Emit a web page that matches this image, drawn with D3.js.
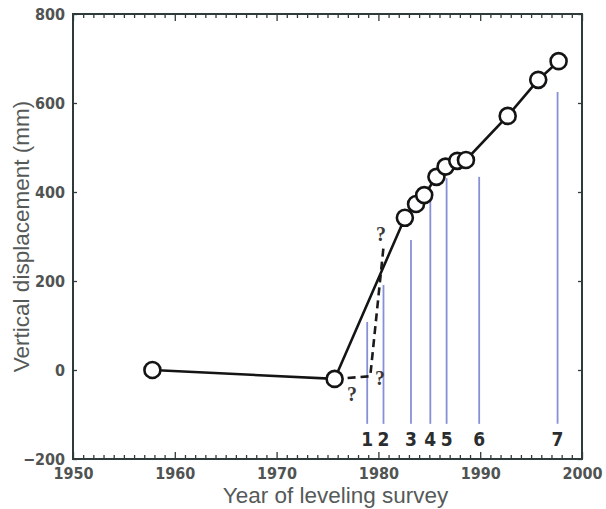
<!DOCTYPE html>
<html>
<head>
<meta charset="utf-8">
<script src="https://cdn.jsdelivr.net/npm/d3@7/dist/d3.min.js"></script>
<style>
  html, body { margin: 0; padding: 0; background: #fff; }
  svg { display: block; }
  .tick-label { font-family: "Liberation Sans Narrow", "DejaVu Sans Condensed", "DejaVu Sans", sans-serif; font-stretch: condensed; font-weight: bold; fill: #4f5352; }
</style>
</head>
<body>
<svg id="chart" width="606" height="509"></svg>
<script>
// Leveling survey results: year of survey vs. vertical displacement (mm)
const surveyYears = [1957.8, 1975.7, 1982.6, 1983.7, 1984.5, 1985.7, 1986.6, 1987.75, 1988.6, 1992.7, 1995.7, 1997.7];
const displacementMm = [0, -20, 342, 373, 393, 434, 457, 470, 472, 571, 652, 694];

// Uncertain path between the 1976 survey and the early-1980s rise
const dashedYears = [1975.7, 1979.2, 1980.5];
const dashedMm = [-20, -14, 276];
const queryYears = [1977.4, 1980.15, 1980.25];
const queryMm = [-54, -18, 306];

// Numbered reference markers
const markerLabels = ["1", "2", "3", "4", "5", "6", "7"];
const markerYears = [1978.9, 1980.5, 1983.2, 1985.1, 1986.7, 1989.9, 1997.6];
const markerTopMm = [108, 191, 292, 382, 431, 434, 625];
const markerBaseMm = -121;
const markerLabelMm = -170;

// Axis ticks
const xTickYears = d3.range(1950, 2001, 1);
const xLabelYears = [1950, 1960, 1970, 1980, 1990, 2000];
const yTickValues = [-200, 0, 200, 400, 600, 800];

const svg = d3.select("#chart");
const plotLeft = 73, plotRight = 582, plotTop = 14, plotBottom = 459;

const x = d3.scaleLinear().domain([1950, 2000]).range([plotLeft, plotRight]);
const y = d3.scaleLinear().domain([-200, 800]).range([plotBottom, plotTop]);

const axisColor = "#2f3a3a";
const condensed = "'Liberation Sans Narrow', 'DejaVu Sans Condensed', 'DejaVu Sans', sans-serif";

// Bottom axis: yearly ticks pointing inward, labels every decade
const gx = svg.append("g").attr("transform", `translate(0,${plotBottom})`)
  .call(d3.axisBottom(x).tickValues(xTickYears).tickSize(-4).tickPadding(9)
    .tickFormat(d => xLabelYears.includes(d) ? String(d) : ""));
gx.selectAll(".tick line").attr("y2", d => d % 10 === 0 ? -7 : -4);

// Top axis
const gt = svg.append("g").attr("transform", `translate(0,${plotTop})`)
  .call(d3.axisTop(x).tickValues(xTickYears).tickSize(-4).tickFormat(""));
gt.selectAll(".tick line").attr("y2", d => d % 10 === 0 ? 7 : 4);

// Left axis
const gy = svg.append("g").attr("transform", `translate(${plotLeft},0)`)
  .call(d3.axisLeft(y).tickValues(yTickValues).tickSize(-4).tickPadding(8)
    .tickFormat(d => d < 0 ? "\u2212" + Math.abs(d) : String(d)));

// Right axis
const gr = svg.append("g").attr("transform", `translate(${plotRight},0)`)
  .call(d3.axisRight(y).tickValues(yTickValues).tickSize(-4).tickFormat(""));

[gx, gt, gy, gr].forEach(g => {
  g.select(".domain").remove();
  g.selectAll(".tick line").attr("stroke", axisColor).attr("stroke-width", 1.3);
  g.selectAll(".tick text").attr("class", "tick-label").attr("font-size", 16).attr("fill", "#4f5352");
});

// Plot frame
svg.append("rect")
  .attr("x", plotLeft).attr("y", plotTop)
  .attr("width", plotRight - plotLeft).attr("height", plotBottom - plotTop)
  .attr("fill", "none").attr("stroke", axisColor).attr("stroke-width", 2);

// Reference markers
svg.append("g").selectAll("line").data(markerYears).join("line")
  .attr("x1", d => x(d)).attr("x2", d => x(d))
  .attr("y1", (d, i) => y(markerTopMm[i])).attr("y2", y(markerBaseMm))
  .attr("stroke", "#8790d6").attr("stroke-width", 1.8);

svg.append("g").selectAll("text").data(markerLabels).join("text")
  .attr("x", (d, i) => x(markerYears[i])).attr("y", y(markerLabelMm))
  .attr("text-anchor", "middle")
  .attr("font-family", condensed).attr("font-stretch", "condensed")
  .attr("font-weight", "bold").attr("font-size", 19).attr("fill", "#2b2e2e")
  .text(d => d);

// Dashed uncertain path
svg.append("path")
  .datum(dashedYears.map((d, i) => [d, dashedMm[i]]))
  .attr("d", d3.line().x(d => x(d[0])).y(d => y(d[1])))
  .attr("fill", "none").attr("stroke", "#1a1a1a").attr("stroke-width", 2.6)
  .attr("stroke-dasharray", "8,5");

svg.append("g").selectAll("text").data(queryYears).join("text")
  .attr("x", d => x(d)).attr("y", (d, i) => y(queryMm[i]))
  .attr("text-anchor", "middle").attr("dominant-baseline", "central")
  .attr("font-family", "'Liberation Serif', 'DejaVu Serif', serif")
  .attr("font-weight", "bold").attr("font-size", 20).attr("fill", "#3a3a3a")
  .text("?");

// Measured displacement series
const pts = surveyYears.map((d, i) => [d, displacementMm[i]]);
svg.append("path").datum(pts)
  .attr("d", d3.line().x(d => x(d[0])).y(d => y(d[1])))
  .attr("fill", "none").attr("stroke", "#141414").attr("stroke-width", 2.6);

svg.append("g").selectAll("circle").data(pts).join("circle")
  .attr("cx", d => x(d[0])).attr("cy", d => y(d[1])).attr("r", 8)
  .attr("fill", "#fff").attr("stroke", "#141414").attr("stroke-width", 2.6);

// Axis titles
svg.append("text")
  .attr("x", (plotLeft + plotRight) / 2 + 8).attr("y", 503)
  .attr("text-anchor", "middle")
  .attr("font-family", "'Liberation Sans', Arial, sans-serif")
  .attr("font-size", 22.5).attr("fill", "#555a59")
  .text("Year of leveling survey");

svg.append("text")
  .attr("transform", `translate(29,${(plotTop + plotBottom) / 2}) rotate(-90)`)
  .attr("text-anchor", "middle")
  .attr("font-family", "'Liberation Sans', Arial, sans-serif")
  .attr("font-size", 22.5).attr("fill", "#555a59")
  .text("Vertical displacement (mm)");
</script>
</body>
</html>
